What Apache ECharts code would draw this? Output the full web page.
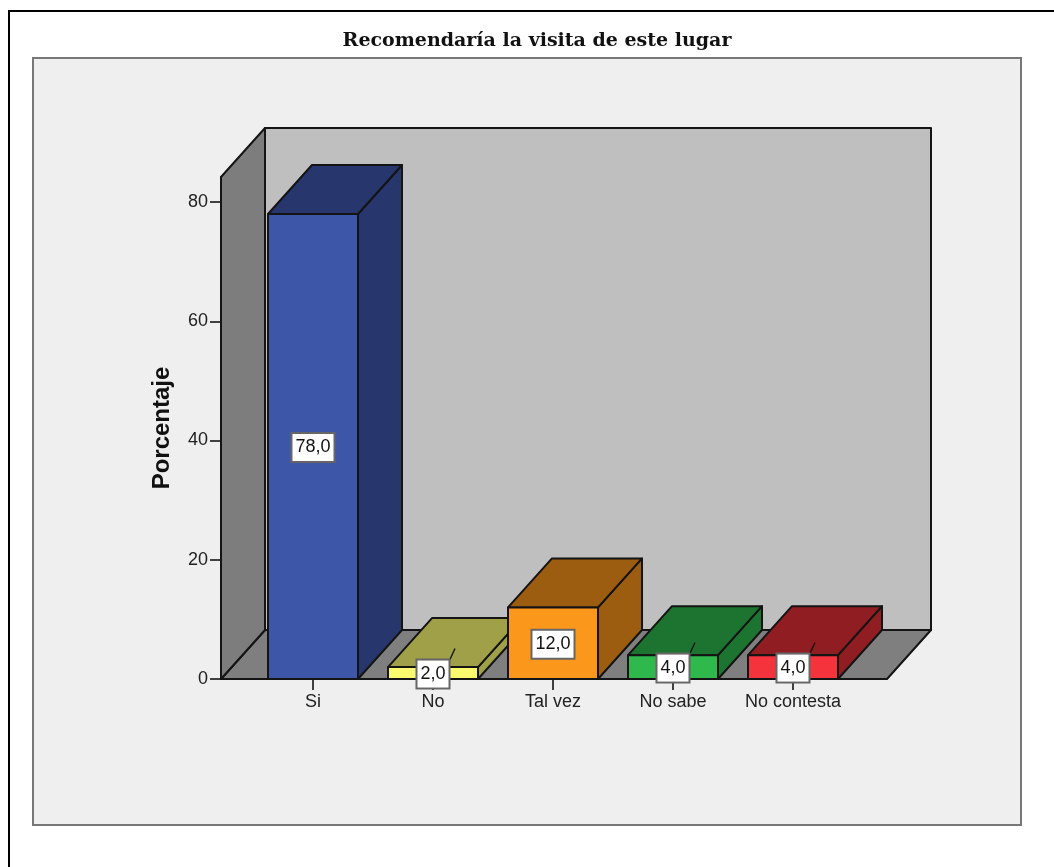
<!DOCTYPE html>
<html><head><meta charset="utf-8">
<style>html,body{margin:0;padding:0;background:#fff}#c{width:1054px;height:867px;filter:blur(0.4px)}</style>
<script src="https://cdn.jsdelivr.net/npm/echarts@6/dist/echarts.min.js"></script>
</head><body><div id="c"></div>
<script>
const categories = ['Si', 'No', 'Tal vez', 'No sabe', 'No contesta'];
const percentages = [78, 2, 12, 4, 4];
const frontColors = ['#3d56a8', '#fbf96e', '#fb981c', '#2fb84c', '#f5333d'];
const darkColors = ['#27376e', '#a0a048', '#9c5d10', '#1c7430', '#901d22'];
const yTicks = [0, 20, 40, 60, 80];
const titleText = 'Recomendaría la visita de este lugar';
const yName = 'Porcentaje';

const DEPTH_X = 44, DEPTH_Y = 49, WALL_PAD_L = 32, WALL_PAD_R = 34, BAR_RATIO = 0.75;
const EDGE = '#141414';
const edge = (w) => ({stroke: EDGE, lineWidth: w || 2, lineJoin: 'round'});
const poly = (pts, fill, w) => ({type: 'polygon', shape: {points: pts}, style: Object.assign({fill}, edge(w))});

function renderBox(params, api) {
  const cs = params.coordSys;
  const L = cs.x - WALL_PAD_L, R = cs.x + cs.width + WALL_PAD_R, T = cs.y, B = cs.y + cs.height;
  const dx = DEPTH_X, dy = DEPTH_Y;
  return {type: 'group', children: [
    poly([[L+dx,T-dy],[R+dx,T-dy],[R+dx,B-dy],[L+dx,B-dy]], '#bfbfbf'),
    poly([[L,B],[R,B],[R+dx,B-dy],[L+dx,B-dy]], '#7f7f7f'),
    poly([[L,T],[L+dx,T-dy],[L+dx,B-dy],[L,B]], '#7d7d7d')
  ]};
}

function renderBar(params, api) {
  const i = api.value(0), v = api.value(1);
  const top = api.coord([i, v]), base = api.coord([i, 0]), mid = api.coord([i, v / 2]);
  const w = api.size([1, 0])[0] * BAR_RATIO;
  const x0 = top[0] - w / 2, x1 = top[0] + w / 2, yt = top[1], yb = base[1];
  const dx = DEPTH_X, dy = DEPTH_Y;
  const lx = mid[0] + dx / 2, ly = mid[1] - dy / 2;
  return {type: 'group', children: [
    poly([[x1,yt],[x1+dx,yt-dy],[x1+dx,yb-dy],[x1,yb]], darkColors[i]),
    poly([[x0,yt],[x0+dx,yt-dy],[x1+dx,yt-dy],[x1,yt]], darkColors[i]),
    {type: 'line', shape: {x1: lx, y1: ly, x2: lx - 6, y2: ly + 13}, style: {stroke: EDGE, lineWidth: 1.4}},
    poly([[x0,yt],[x1,yt],[x1,yb],[x0,yb]], frontColors[i]),
    {type: 'text', x: mid[0], y: mid[1] + 1, style: {
      text: v.toFixed(1).replace('.', ','), align: 'center', verticalAlign: 'middle',
      font: '18px "Liberation Sans"', fill: '#111', backgroundColor: '#fff',
      borderColor: '#666', borderWidth: 2, padding: [5, 3, 4, 3]
    }}
  ]};
}

const chart = echarts.init(document.getElementById('c'), null, {renderer: 'canvas'});
chart.setOption({
  animation: false,
  backgroundColor: '#fff',
  title: {text: titleText, left: 532, top: 27, textAlign: 'center',
    textStyle: {fontFamily: 'DejaVu Serif', fontWeight: 'bold', fontSize: 19, color: '#111'}},
  grid: {left: 253, width: 600, top: 177, height: 502},
  graphic: [
    {type: 'polyline', z: -2, shape: {points: [[9, 867], [9, 11], [1054, 11]]}, style: {stroke: '#000', lineWidth: 2, fill: null}},
    {type: 'rect', z: -2, shape: {x: 33, y: 58, width: 988, height: 767}, style: {fill: '#efefef', stroke: '#777', lineWidth: 2}}
  ],
  xAxis: {type: 'category', data: categories,
    axisLine: {show: true, lineStyle: {color: EDGE, width: 2}},
    axisTick: {show: true, alignWithLabel: true, length: 11, lineStyle: {color: EDGE, width: 1.6}},
    axisLabel: {color: '#222', fontFamily: 'Liberation Sans', fontSize: 18, margin: 14, interval: 0}},
  yAxis: {type: 'value', min: 0, max: 84.2, interval: 20, offset: WALL_PAD_L,
    name: yName, nameLocation: 'middle', nameGap: 47, nameRotate: 90,
    nameTextStyle: {fontFamily: 'Liberation Sans', fontWeight: 'bold', fontSize: 24, color: '#111'},
    splitLine: {show: false},
    axisLine: {show: true, lineStyle: {color: EDGE, width: 2}},
    axisTick: {show: true, length: 11, customValues: yTicks, lineStyle: {color: EDGE, width: 1.6}},
    axisLabel: {color: '#222', fontFamily: 'Liberation Sans', fontSize: 18, margin: 13, customValues: yTicks}},
  series: [
    {type: 'custom', z: 1, silent: true, clip: false, data: [[0, 0]], renderItem: renderBox},
    {type: 'custom', z: 2, silent: true, clip: false, renderItem: renderBar,
     encode: {x: 0, y: 1}, data: percentages.map((v, i) => [i, v])}
  ]
});
</script></body></html>
